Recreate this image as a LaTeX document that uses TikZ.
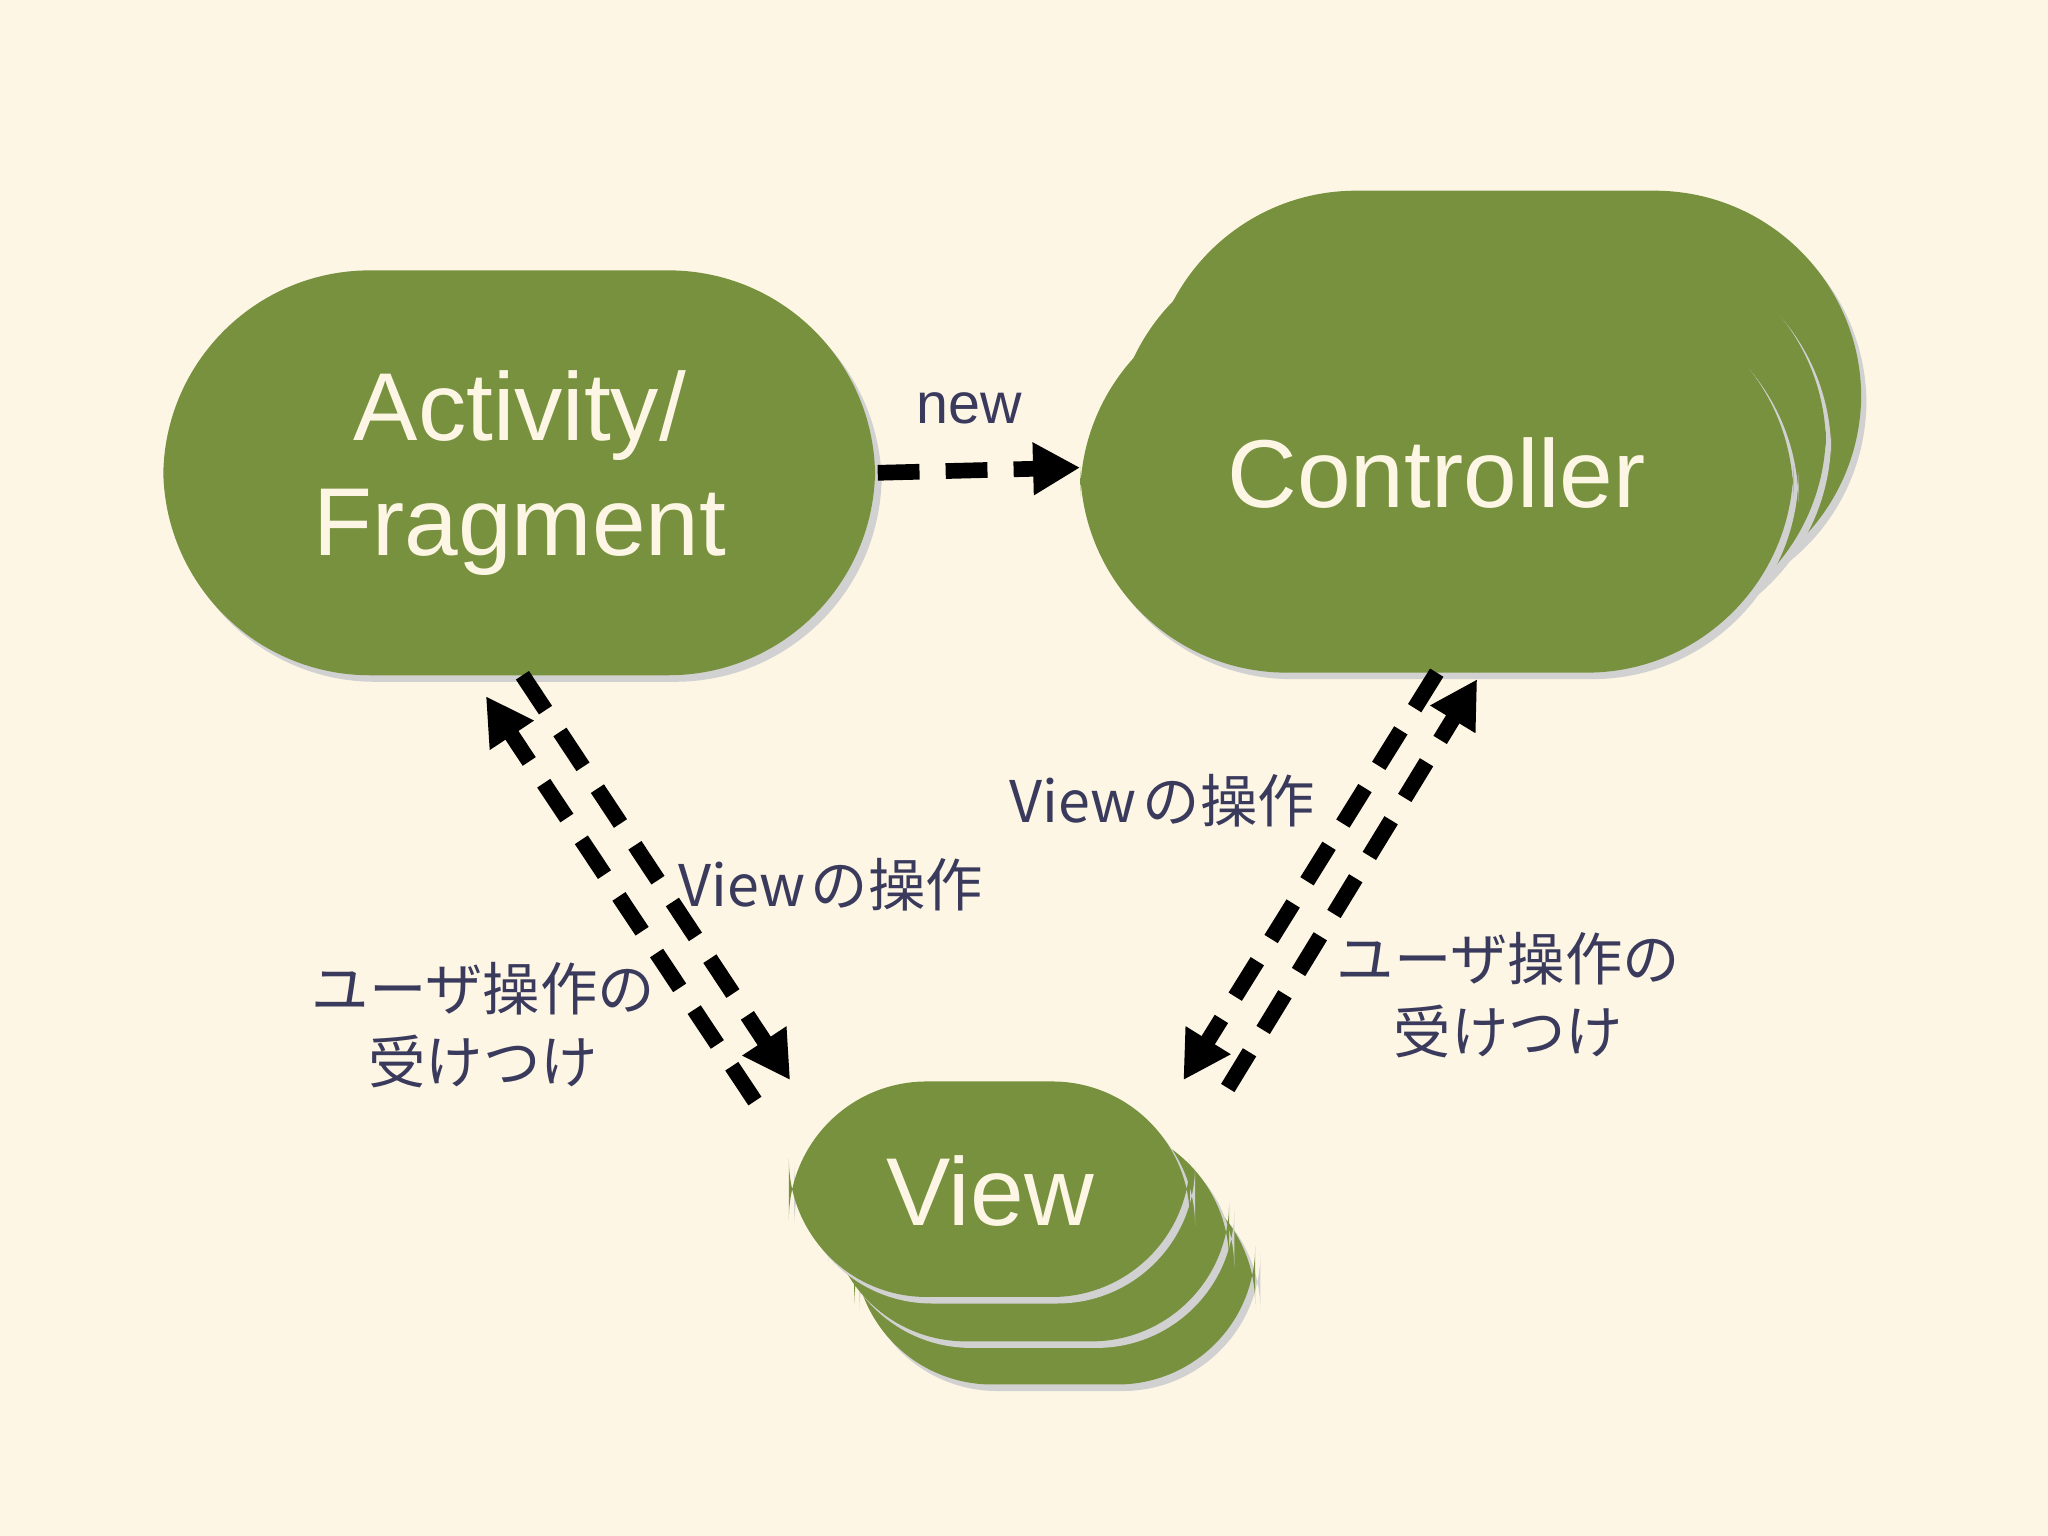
\documentclass[tikz,border=0pt]{standalone}
\usepackage{fontspec}
\setmainfont{Liberation Sans}
\newfontfamily\cjk{Noto Sans CJK JP}
\usetikzlibrary{arrows.meta}
\definecolor{bg}{HTML}{FDF6E5}
\definecolor{box}{HTML}{78913F}
\definecolor{lbl}{HTML}{3A3A5C}
\begin{document}
\begin{tikzpicture}[x=0.01cm,y=-0.01cm,
  blk/.style={fill=box, draw=none},
  shad/.style={fill=black!18, draw=none},
  big/.style={text=bg, font=\fontsize{21}{25}\selectfont, align=center},
  lab/.style={text=lbl, font=\fontsize{12.5}{16}\selectfont\cjk, align=center},
  dar/.style={draw=black, line width=1.2mm, dash pattern=on 3.2mm off 2mm, -{Triangle[length=3.6mm,width=3.8mm]}}]
\useasboundingbox (0,0) rectangle (1568,1176);
\fill[bg] (0,0) rectangle (1568,1176);
% Activity
\fill[shad, rounded corners=45] (129,213) rectangle (675,522);
\fill[blk, rounded corners=45] (125,207) rectangle (670,517);
\node[big] (act) at (398,362) {Activity/\\Fragment};
% Controller stack
\fill[shad, rounded corners=45] (884,151) rectangle (1429,465);
\fill[blk, rounded corners=45] (880,146) rectangle (1425,460);
\fill[shad, rounded corners=45] (857,188) rectangle (1402,493);
\fill[blk, rounded corners=45] (853,183) rectangle (1398,488);
\fill[shad, rounded corners=45] (831,227) rectangle (1377,520);
\fill[blk, rounded corners=45] (827,222) rectangle (1373,515);
\node[big] (ctl) at (1100,362) {Controller};
% View stack
\fill[shad, rounded corners=30] (658,898) rectangle (965,1065);
\fill[blk, rounded corners=30] (654,893) rectangle (961,1060);
\fill[shad, rounded corners=30] (638,865) rectangle (945,1032);
\fill[blk, rounded corners=30] (634,860) rectangle (941,1027);
\fill[shad, rounded corners=30] (608,833) rectangle (915,998);
\fill[blk, rounded corners=30] (604,828) rectangle (911,993);
\node[big] (view) at (758,912) {View};
% anchor coordinates
\coordinate (a1) at (672,362); \coordinate (c1) at (827,358);
\coordinate (a2) at (372,533); \coordinate (v2) at (578,843);
\coordinate (a3) at (400,517); \coordinate (v3) at (605,827);
\coordinate (c4) at (1100,515); \coordinate (v4) at (906,827);
\coordinate (c5) at (1131,520); \coordinate (v5) at (940,833);
\draw[dar] (a1) -- (c1);
\draw[dar] (v2) -- (a2);
\draw[dar] (a3) -- (v3);
\draw[dar] (c4) -- (v4);
\draw[dar] (v5) -- (c5);
% labels
\node[text=lbl, font=\fontsize{12.5}{15}\selectfont] (new) at (742,313) {new};
\node[lab] (l1) at (636,677) {View\hspace{0.1em}の操作};
\node[lab] (l2) at (890,613) {View\hspace{0.1em}の操作};
\node[lab] (l3) at (370,785) {ユーザ操作の\\受けつけ};
\node[lab] (l4) at (1155,762) {ユーザ操作の\\受けつけ};
\end{tikzpicture}
\end{document}
